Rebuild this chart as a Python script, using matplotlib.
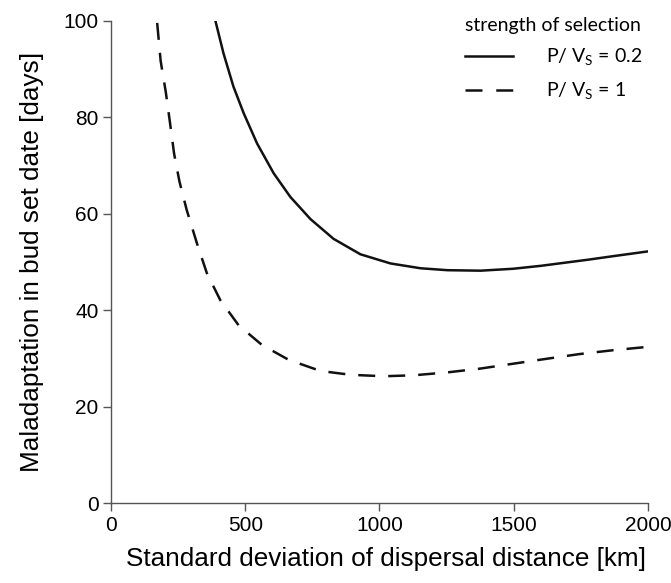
import matplotlib.pyplot as plt
from matplotlib.lines import Line2D

# values
x_weak = [390, 419, 456, 494, 544, 606, 668, 743, 829, 929, 1041, 1153, 1253, 1377, 1498, 1600, 1683, 1780, 1869, 2000]
y_weak = [99.8, 93.3, 86.4, 80.9, 74.6, 68.4, 63.5, 58.9, 54.8, 51.6, 49.7, 48.7, 48.3, 48.2, 48.6, 49.2, 49.8, 50.5, 51.2, 52.2]

x_strong = [172, 185, 204, 220, 235, 255, 282, 320, 357, 407, 475, 562, 662, 780, 892, 1016, 1128, 1253, 1377, 1498, 1620, 1745, 1870, 2000]
y_strong = [99.6, 91.7, 85.3, 78.8, 72.5, 66.7, 60.8, 53.9, 47.7, 42.1, 36.9, 32.8, 29.7, 27.4, 26.6, 26.3, 26.5, 27.1, 27.9, 28.9, 29.9, 30.9, 31.7, 32.4]

xticks = [0, 500, 1000, 1500, 2000]
yticks = [0, 20, 40, 60, 80, 100]

plt.rcParams['font.family'] = ['Liberation Sans', 'DejaVu Sans']
plt.rcParams['mathtext.fontset'] = 'custom'
plt.rcParams['mathtext.rm'] = 'Lato'

fig = plt.figure(figsize=(6.71, 5.83), dpi=100)
ax = fig.add_axes([0.1654, 0.1372, 0.8003, 0.8268])

ax.plot(x_weak, y_weak, color='#111111', lw=1.8, solid_joinstyle='round')
ax.plot(x_strong, y_strong, color='#111111', lw=1.8, dashes=(6.8, 5.2))

ax.set_xlim(0, 2000)
ax.set_ylim(0, 100)
ax.set_xticks(xticks)
ax.set_yticks(yticks)
ax.tick_params(direction='out', length=6, width=1.0, color='#555555', labelsize=15, pad=3)
for s in ['top', 'right']:
    ax.spines[s].set_visible(False)
for s in ['left', 'bottom']:
    ax.spines[s].set_color('#555555')
    ax.spines[s].set_linewidth(1.0)

xl = ax.set_xlabel('Standard deviation of dispersal distance [km]', fontsize=18.8, labelpad=9)
xl.set_x(0.512)
ax.set_ylabel('Maladaptation in bud set date [days]', fontsize=18.8, labelpad=14)

handles = [Line2D([], [], color='#111111', lw=1.8),
           Line2D([], [], color='#111111', lw=1.8, dashes=(6.8, 5.5))]
labels = [r'P/ V$_\mathrm{S}$ = 0.2', r'P/ V$_\mathrm{S}$ = 1']
leg = ax.legend(handles, labels, title='strength of selection', loc='upper left',
                bbox_to_anchor=(465 / 671, 1 - 17 / 583), bbox_transform=fig.transFigure,
                frameon=False, borderpad=0, borderaxespad=0, handlelength=2.47,
                handletextpad=1.7, labelspacing=0.66,
                prop={'family': 'Lato', 'size': 14},
                title_fontproperties={'family': 'Lato', 'size': 14})
leg._legend_box.align = 'left'

fig.savefig('out.png', dpi=100)
